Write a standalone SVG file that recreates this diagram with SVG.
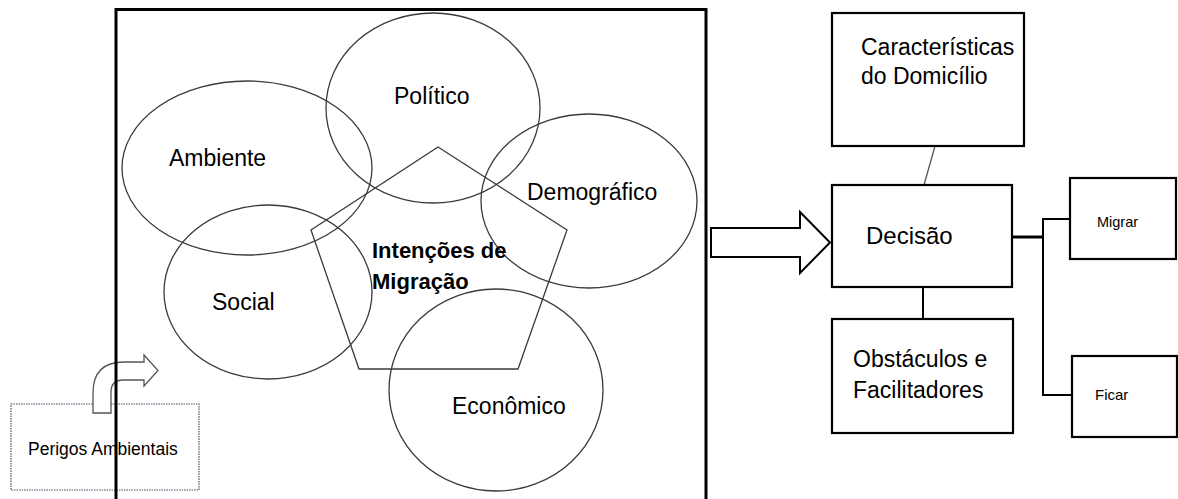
<svg xmlns="http://www.w3.org/2000/svg" width="1178" height="499" viewBox="0 0 1178 499">
<style>
text{font-family:"Liberation Sans",Arial,sans-serif;fill:#000}
.lbl{font-size:23px}
.ell{fill:none;stroke:#3a3a3a;stroke-width:1.3}
.box{fill:#fff;stroke:#000;stroke-width:2.2}
.con{fill:none;stroke:#000;stroke-width:2}
</style>
<rect width="1178" height="499" fill="#fff"/>
<g id="ellipses">
<g id="politico"><ellipse class="ell" cx="433" cy="108" rx="107" ry="95"/><text class="lbl" x="394" y="104">Político</text></g>
<g id="ambiente"><ellipse class="ell" cx="247" cy="168" rx="125" ry="87"/><text class="lbl" x="169" y="166">Ambiente</text></g>
<g id="demografico"><ellipse class="ell" cx="589" cy="201" rx="108" ry="87"/><text class="lbl" x="527" y="200">Demográfico</text></g>
<g id="social"><ellipse class="ell" cx="268" cy="292" rx="104" ry="87"/><text class="lbl" x="212" y="310">Social</text></g>
<g id="economico"><ellipse class="ell" cx="496" cy="390" rx="107" ry="101"/><text class="lbl" x="452" y="414">Econômico</text></g>
</g>
<g id="intencoes">
<polygon points="438,147 567,230 518,369 359,369 311,230" fill="none" stroke="#3a3a3a" stroke-width="1.3"/>
<text x="372" y="258" font-size="22" font-weight="bold">Intenções de</text>
<text x="372" y="289" font-size="22" font-weight="bold">Migração</text>
</g>
<g id="perigos">
<rect x="11" y="404" width="188" height="86" fill="#fff" stroke="#44546a" stroke-width="1.2" stroke-dasharray="1.5 1"/>
<text x="28" y="455" font-size="17.5">Perigos Ambientais</text>
</g>
<g id="connectors">
<path d="M93,413 L93,393 Q93,362 124,362 L144,362 L144,355 L158,370.5 L144,386 L144,380 L123,380 Q111,380 111,392 L111,413 Z" fill="#fff" stroke="#555" stroke-width="1.3"/>
<path d="M711,228 H800 V212 L830,242.5 L800,273 V257 H711 Z" fill="#fff" stroke="#000" stroke-width="2"/>
<line x1="935" y1="146" x2="924" y2="185" stroke="#555" stroke-width="1.3"/>
<line class="con" x1="923" y1="287" x2="923" y2="319"/>
<line x1="1012" y1="237" x2="1043" y2="237" stroke="#000" stroke-width="3"/>
<polyline class="con" points="1070,219 1043,219 1043,395 1072,395"/>
</g>
<g id="frame">
<path d="M116,499 V9.5 H706 V499" fill="none" stroke="#000" stroke-width="3"/>
</g>
<g id="caracteristicas">
<rect class="box" x="832" y="13" width="192" height="133"/>
<text class="lbl" x="861" y="55">Características</text>
<text class="lbl" x="861" y="84">do Domicílio</text>
</g>
<g id="decisao">
<rect class="box" x="832" y="185" width="180" height="102"/>
<text x="866" y="244" font-size="24">Decisão</text>
</g>
<g id="obstaculos">
<rect class="box" x="832" y="319" width="181" height="114"/>
<text class="lbl" x="853" y="367">Obstáculos e</text>
<text class="lbl" x="853" y="398">Facilitadores</text>
</g>
<g id="migrar">
<rect class="box" x="1070" y="178" width="106" height="81"/>
<text x="1097" y="227" font-size="14.5">Migrar</text>
</g>
<g id="ficar">
<rect class="box" x="1072" y="356" width="105" height="81"/>
<text x="1095" y="400" font-size="15">Ficar</text>
</g>
</svg>
